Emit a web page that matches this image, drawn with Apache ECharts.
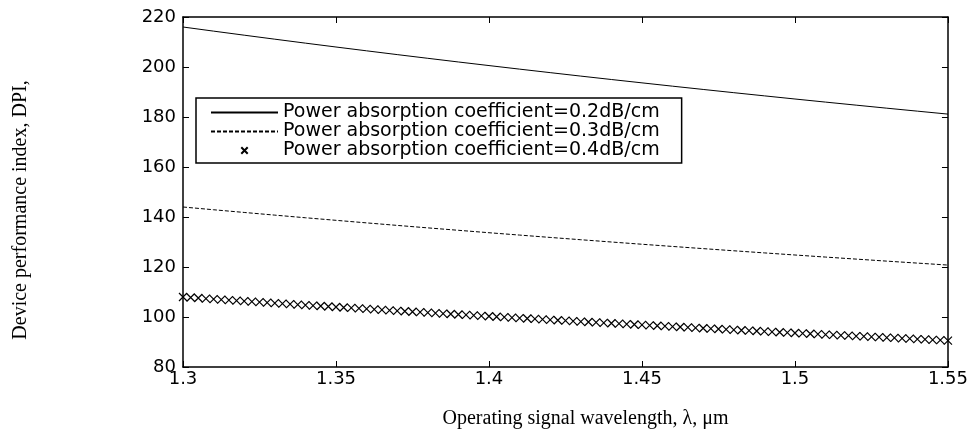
<!DOCTYPE html>
<html>
<head>
<meta charset="utf-8">
<script src="https://cdn.jsdelivr.net/npm/echarts@6/dist/echarts.min.js"></script>
<style>
html,body{margin:0;padding:0;background:#fff;}
#chart{width:971px;height:439px;}
</style>
</head>
<body>
<div id="chart"></div>
<script>
// Wavelength (um) grid for the two continuous curves
var wl = [1.30,1.31,1.32,1.33,1.34,1.35,1.36,1.37,1.38,1.39,1.40,1.41,1.42,1.43,1.44,1.45,1.46,1.47,1.48,1.49,1.50,1.51,1.52,1.53,1.54,1.55];
// DPI, power absorption coefficient = 0.2 dB/cm
var dpi02 = [216.0,214.35,212.73,211.13,209.55,208.0,206.47,204.96,203.48,202.01,200.57,199.15,197.75,196.36,195.0,193.66,192.33,191.02,189.73,188.46,187.2,185.96,184.74,183.53,182.34,181.16];
// DPI, power absorption coefficient = 0.3 dB/cm
var dpi03 = [144.0,142.9,141.82,140.75,139.70,138.67,137.65,136.64,135.65,134.68,133.71,132.77,131.83,130.91,130.0,129.10,128.22,127.35,126.49,125.64,124.8,123.97,123.16,122.35,121.56,120.77];
// Wavelength grid for the marker series
var wlMarks = [1.3000,1.3025,1.3050,1.3075,1.3100,1.3125,1.3150,1.3175,1.3200,1.3225,1.3250,1.3275,1.3300,1.3325,1.3350,1.3375,1.3400,1.3425,1.3450,1.3475,1.3500,1.3525,1.3550,1.3575,1.3600,1.3625,1.3650,1.3675,1.3700,1.3725,1.3750,1.3775,1.3800,1.3825,1.3850,1.3875,1.3900,1.3925,1.3950,1.3975,1.4000,1.4025,1.4050,1.4075,1.4100,1.4125,1.4150,1.4175,1.4200,1.4225,1.4250,1.4275,1.4300,1.4325,1.4350,1.4375,1.4400,1.4425,1.4450,1.4475,1.4500,1.4525,1.4550,1.4575,1.4600,1.4625,1.4650,1.4675,1.4700,1.4725,1.4750,1.4775,1.4800,1.4825,1.4850,1.4875,1.4900,1.4925,1.4950,1.4975,1.5000,1.5025,1.5050,1.5075,1.5100,1.5125,1.5150,1.5175,1.5200,1.5225,1.5250,1.5275,1.5300,1.5325,1.5350,1.5375,1.5400,1.5425,1.5450,1.5475,1.5500];
// DPI, power absorption coefficient = 0.4 dB/cm
var dpi04 = [108.00,107.79,107.59,107.38,107.18,106.97,106.77,106.57,106.36,106.16,105.96,105.76,105.56,105.37,105.17,104.97,104.78,104.58,104.39,104.19,104.00,103.81,103.62,103.43,103.24,103.05,102.86,102.67,102.48,102.30,102.11,101.92,101.74,101.56,101.37,101.19,101.01,100.83,100.65,100.47,100.29,100.11,99.93,99.75,99.57,99.40,99.22,99.05,98.87,98.70,98.53,98.35,98.18,98.01,97.84,97.67,97.50,97.33,97.16,97.00,96.83,96.66,96.49,96.33,96.16,96.00,95.84,95.67,95.51,95.35,95.19,95.03,94.86,94.71,94.55,94.39,94.23,94.07,93.91,93.76,93.60,93.44,93.29,93.13,92.98,92.83,92.67,92.52,92.37,92.22,92.07,91.92,91.76,91.62,91.47,91.32,91.17,91.02,90.87,90.73,90.58];
var seriesNames = ['Power absorption coefficient=0.2dB/cm','Power absorption coefficient=0.3dB/cm','Power absorption coefficient=0.4dB/cm'];
var xTickLabels = ['1.3','1.35','1.4','1.45','1.5','1.55'];
var yTickLabels = ['80','100','120','140','160','180','200','220'];
var xTitle = 'Operating signal wavelength, \u03bb, \u03bcm';
var yTitle = 'Device performance index, DPI,';

function pairs(xs, ys){ return xs.map(function(x,i){ return [x, ys[i]]; }); }

var chart = echarts.init(document.getElementById('chart'), null, {renderer:'canvas'});
var tickFont = {fontFamily:'DejaVu Sans', fontSize:18, color:'#000'};
var axisLine = {show:true, lineStyle:{color:'#000', width:1.5}};
var axisTick = {show:true, inside:true, length:6, lineStyle:{color:'#000', width:1}};
var xMin = 1.3, xMax = 1.55, xInt = 0.05;
var yMin = 80, yMax = 220, yInt = 20;
var noSym = {color:'rgba(0,0,0,0)', borderWidth:0, opacity:0};

chart.setOption({
  animation:false,
  backgroundColor:'#fff',
  grid:{left:183, right:23, top:17, bottom:72, containLabel:false},
  legend:{
    data:[
      {name:seriesNames[0], itemStyle:noSym},
      {name:seriesNames[1], itemStyle:noSym},
      {name:seriesNames[2]}
    ],
    orient:'vertical',
    left:196, top:98,
    padding:[5,22,3,14],
    itemGap:0,
    itemWidth:67, itemHeight:8,
    borderColor:'#000', borderWidth:1.5,
    backgroundColor:'#fff',
    textStyle:{fontFamily:'DejaVu Sans', fontSize:19, color:'#000', lineHeight:19}
  },
  xAxis:[{
    type:'value', min:xMin, max:xMax, interval:xInt, position:'bottom',
    axisLine:axisLine, axisTick:axisTick, splitLine:{show:false},
    axisLabel:Object.assign({margin:3, formatter:function(v){ var i=Math.round((v-xMin)/xInt); return xTickLabels[i]!==undefined?xTickLabels[i]:''; }}, tickFont),
    name:xTitle, nameLocation:'middle', nameGap:42,
    nameTextStyle:{fontFamily:'Liberation Serif', fontSize:20, color:'#000', padding:[0,0,0,40]}
  },{
    type:'value', min:xMin, max:xMax, interval:xInt, position:'top',
    axisLine:axisLine, axisTick:axisTick, splitLine:{show:false}, axisLabel:{show:false}
  }],
  yAxis:[{
    type:'value', min:yMin, max:yMax, interval:yInt, position:'left',
    axisLine:axisLine, axisTick:axisTick, splitLine:{show:false},
    axisLabel:Object.assign({margin:7, formatter:function(v){ var i=Math.round((v-yMin)/yInt); return yTickLabels[i]!==undefined?yTickLabels[i]:''; }}, tickFont),
    name:yTitle, nameLocation:'middle', nameGap:152,
    nameTextStyle:{fontFamily:'Liberation Serif', fontSize:20, color:'#000', padding:[0,36,0,0]}
  },{
    type:'value', min:yMin, max:yMax, interval:yInt, position:'right',
    axisLine:axisLine, axisTick:axisTick, splitLine:{show:false}, axisLabel:{show:false}
  }],
  series:[{
    name:seriesNames[0], type:'line', xAxisIndex:0, yAxisIndex:0,
    data:pairs(wl, dpi02), showSymbol:false, symbol:'none',
    lineStyle:{color:'#000', width:1}, itemStyle:{color:'#000'}
  },{
    name:seriesNames[1], type:'line', xAxisIndex:0, yAxisIndex:0,
    data:pairs(wl, dpi03), showSymbol:false, symbol:'none',
    lineStyle:{color:'#000', width:1, type:[4,2]}, itemStyle:{color:'#000'}
  },{
    name:seriesNames[2], type:'line', xAxisIndex:0, yAxisIndex:0,
    data:pairs(wlMarks, dpi04), showSymbol:true, showAllSymbol:true,
    symbol:'path://M0,0L10,10M10,0L0,10', symbolSize:8,
    lineStyle:{width:0, opacity:0},
    itemStyle:{color:'rgba(0,0,0,0)', borderColor:'#000', borderWidth:1.2}
  }]
});
</script>
</body>
</html>
